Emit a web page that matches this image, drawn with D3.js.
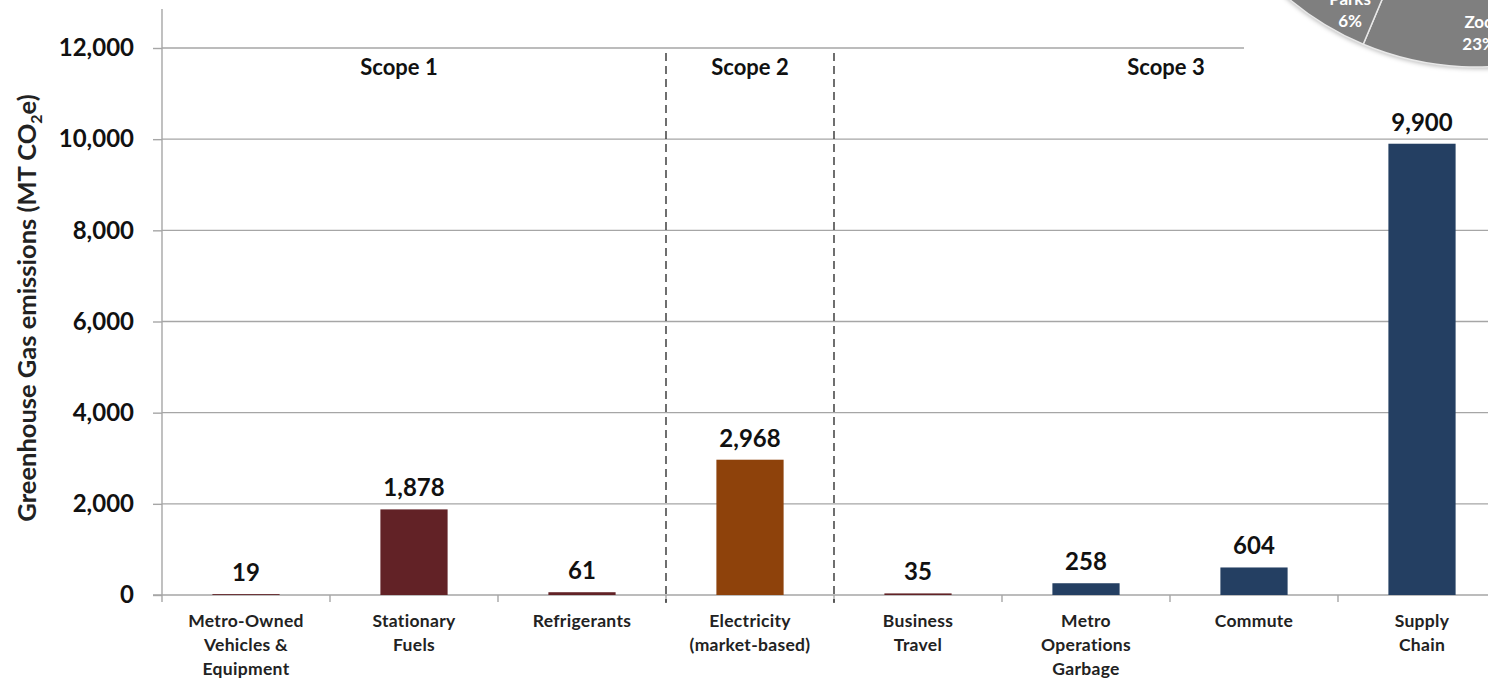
<!DOCTYPE html>
<html>
<head>
<meta charset="utf-8">
<script src="https://cdn.jsdelivr.net/npm/d3@7/dist/d3.min.js"></script>
<style>
  html, body { margin: 0; padding: 0; background: #fff; }
  svg { display: block; font-family: "Lato", "Open Sans", sans-serif; }
</style>
</head>
<body>
<svg id="chart" width="1488" height="678"></svg>
<script>
// Emission sources (three GHG protocol scopes)
const categories = [
  ["Metro-Owned", "Vehicles &", "Equipment"],
  ["Stationary", "Fuels"],
  ["Refrigerants"],
  ["Electricity", "(market-based)"],
  ["Business", "Travel"],
  ["Metro", "Operations", "Garbage"],
  ["Commute"],
  ["Supply", "Chain"]
];
const emissions = [19, 1878, 61, 2968, 35, 258, 604, 9900];
const barColors = ["#622226", "#622226", "#622226", "#8e420b", "#622226", "#243f62", "#243f62", "#243f62"];
const yTicks = [0, 2000, 4000, 6000, 8000, 10000, 12000];
const scopes = [
  { name: "Scope 1", first: 0, last: 2 },
  { name: "Scope 2", first: 3, last: 3 },
  { name: "Scope 3", first: 4, last: 7 }
];
// Share of emissions by department (inset pie, partly visible)
const pieSlices = [
  { name: "Zoo", pct: 23 },
  { name: "Parks", pct: 6 },
  { name: "", pct: 71 }
];

const svg = d3.select("#chart");
const W = 1488, H = 678;
const margin = { left: 162, top: 9, bottom: 595 };

const keys = categories.map((c, i) => i);
const x = d3.scaleBand().domain(keys).range([162, 162 + 168 * 8])
  .paddingInner(0.6).paddingOuter(0.3);
const step = x.step();
const y = d3.scaleLinear().domain([0, 12000]).range([595, 48]);

const defs = svg.append("defs");
defs.append("filter").attr("id", "soft")
  .attr("x", "-50%").attr("y", "-5%").attr("width", "200%").attr("height", "110%")
  .append("feGaussianBlur").attr("stdDeviation", 1.3);
const sh = defs.append("filter").attr("id", "pieShadow")
  .attr("x", "-20%").attr("y", "-20%").attr("width", "140%").attr("height", "140%");
sh.append("feDropShadow").attr("dx", 0).attr("dy", 2).attr("stdDeviation", 2)
  .attr("flood-color", "#000").attr("flood-opacity", 0.25);

// Gridlines
svg.append("g").selectAll("line").data(yTicks.filter(d => d > 0)).join("line")
  .attr("x1", margin.left).attr("x2", W)
  .attr("y1", d => y(d)).attr("y2", d => y(d))
  .attr("stroke", "#a6a6a6").attr("stroke-width", 1.4);

// Y axis
const yAxis = svg.append("g").attr("transform", `translate(${margin.left},0)`)
  .call(d3.axisLeft(y).tickValues(yTicks).tickFormat(d3.format(",")).tickSize(9).tickPadding(19));
yAxis.select(".domain").remove();
yAxis.selectAll(".tick line").attr("stroke", "#a6a6a6").attr("stroke-width", 1.4);
yAxis.selectAll(".tick text").attr("font-size", 24).attr("font-weight", 700)
  .attr("fill", "#111").attr("font-family", "Lato, sans-serif");
svg.append("line").attr("x1", margin.left).attr("x2", margin.left)
  .attr("y1", margin.top).attr("y2", 602)
  .attr("stroke", "#a6a6a6").attr("stroke-width", 1.4);

// X axis baseline with category boundary ticks
svg.append("line").attr("x1", 153).attr("x2", W).attr("y1", y(0)).attr("y2", y(0))
  .attr("stroke", "#a6a6a6").attr("stroke-width", 1.4);
svg.append("g").selectAll("line").data(d3.range(1, categories.length + 1)).join("line")
  .attr("x1", i => 162 + step * i).attr("x2", i => 162 + step * i)
  .attr("y1", y(0)).attr("y2", y(0) + 7)
  .attr("stroke", "#a6a6a6").attr("stroke-width", 1.4);

// Scope separators: dashed line with a soft grey shadow beside it
const seps = scopes.slice(1).map(s => 162 + step * s.first);
svg.append("g").selectAll("line").data(seps).join("line")
  .attr("x1", d => d + 10).attr("x2", d => d + 10).attr("y1", 58).attr("y2", 602)
  .attr("stroke", "#d4d4d4").attr("stroke-width", 3).attr("stroke-dasharray", "4,3")
  .attr("filter", "url(#soft)");
svg.append("g").selectAll("line").data(seps).join("line")
  .attr("x1", d => d).attr("x2", d => d).attr("y1", 53).attr("y2", 603)
  .attr("stroke", "#222").attr("stroke-width", 1.3).attr("stroke-dasharray", "8,5");

// Bars
svg.append("g").selectAll("rect").data(emissions).join("rect")
  .attr("x", (d, i) => x(i)).attr("width", x.bandwidth())
  .attr("y", d => y(d)).attr("height", d => y(0) - y(d))
  .attr("fill", (d, i) => barColors[i]);

// Value labels
svg.append("g").selectAll("text").data(emissions).join("text")
  .attr("x", (d, i) => x(i) + x.bandwidth() / 2)
  .attr("y", d => y(d) - 13)
  .attr("text-anchor", "middle").attr("font-size", 24).attr("font-weight", 700)
  .attr("fill", "#111").text(d => d3.format(",")(d));

// Category labels
const cat = svg.append("g").selectAll("text").data(categories).join("text")
  .attr("x", (d, i) => x(i) + x.bandwidth() / 2)
  .attr("y", 627)
  .attr("text-anchor", "middle").attr("font-size", 17.5).attr("font-weight", 700)
  .attr("letter-spacing", 0.3)
  .attr("fill", "#222");
cat.selectAll("tspan").data(d => d).join("tspan")
  .attr("x", function () { return d3.select(this.parentNode).attr("x"); })
  .attr("dy", (d, j) => j === 0 ? 0 : 24)
  .text(d => d);

// Scope headings
svg.append("g").selectAll("text").data(scopes).join("text")
  .attr("x", (s, i) => (162 + step * s.first + 162 + step * (s.last + 1)) / 2 + (i === 0 ? -15 : (i === 2 ? -4 : 0)))
  .attr("y", 75)
  .attr("text-anchor", "middle").attr("font-size", 22).attr("font-weight", 700)
  .attr("fill", "#111").text(s => s.name);

// Y axis title
const yt = svg.append("text")
  .attr("transform", "translate(36,308) rotate(-90)")
  .attr("text-anchor", "middle").attr("font-size", 25.5).attr("font-weight", 700)
  .attr("fill", "#222");
yt.append("tspan").text("Greenhouse Gas emissions (MT CO");
yt.append("tspan").attr("font-size", 16).attr("dy", 6).text("2");
yt.append("tspan").attr("dy", -6).text("e)");

// Inset pie (partly off the page at the top right)
const inset = svg.append("g");
inset.append("rect").attr("x", 1244).attr("y", 0).attr("width", W - 1244).attr("height", 98)
  .attr("fill", "#fff");
const pieR = 291;
const pieG = inset.append("g").attr("transform", "translate(1476,-224)");
const startDeg = 120;
const pie = d3.pie().sort(null).value(d => d.pct)
  .startAngle(startDeg * Math.PI / 180).endAngle((startDeg + 360) * Math.PI / 180);
const arcs = pie(pieSlices);
const arc = d3.arc().innerRadius(0).outerRadius(pieR);
pieG.append("circle").attr("r", pieR).attr("fill", "#7f7f7f").attr("filter", "url(#pieShadow)");
pieG.selectAll("path").data(arcs).join("path")
  .attr("d", arc).attr("fill", "#7f7f7f")
  .attr("stroke", "#e8e8e8").attr("stroke-width", 1.5);
// Labels sit near the visible rim of each slice
const labelPos = { Parks: { a: 208.5, r: 264 }, Zoo: { a: 179.3, r: 255 } };
const pl = pieG.selectAll("text.lbl").data(arcs.filter(d => labelPos[d.data.name])).join("text")
  .attr("class", "lbl")
  .attr("transform", d => {
    const p = labelPos[d.data.name];
    const a = p.a * Math.PI / 180;
    return `translate(${p.r * Math.sin(a)},${-p.r * Math.cos(a)})`;
  })
  .attr("text-anchor", "middle").attr("font-size", 17).attr("font-weight", 700)
  .attr("fill", "#fff");
pl.append("tspan").attr("x", 0).attr("dy", -3).text(d => d.data.name);
pl.append("tspan").attr("x", 0).attr("dy", 22).text(d => d.data.pct + "%");
</script>
</body>
</html>
